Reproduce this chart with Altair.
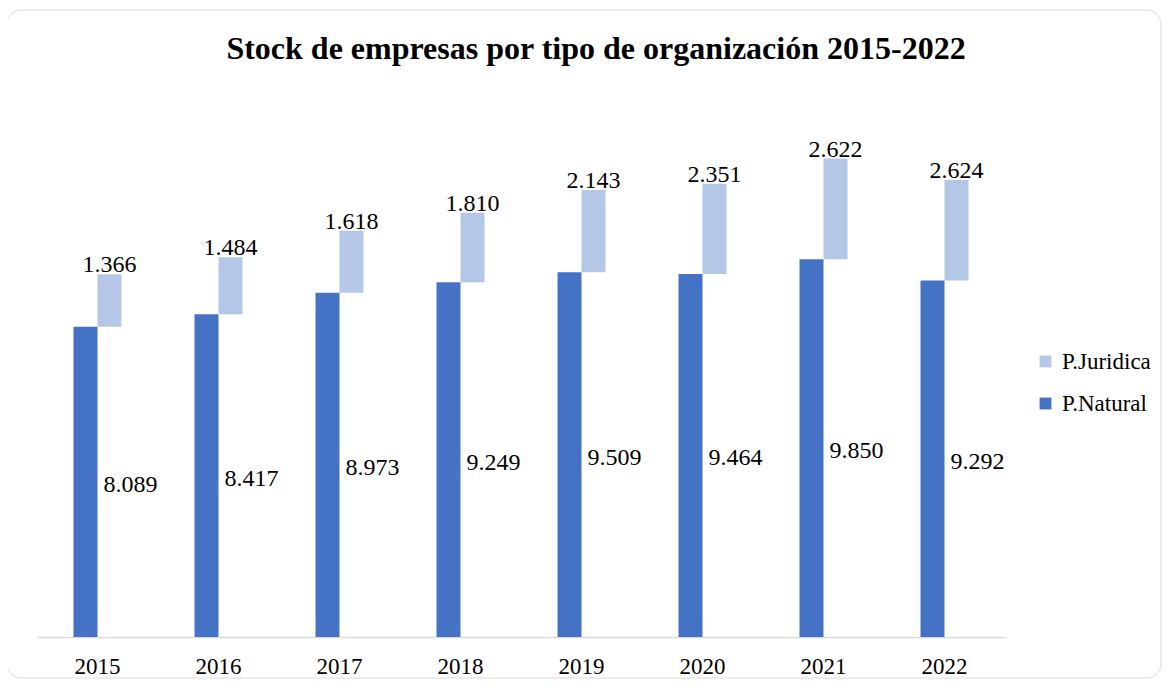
import altair as alt
import pandas as pd

years = ["2015", "2016", "2017", "2018", "2019", "2020", "2021", "2022"]
natural = [8089, 8417, 8973, 9249, 9509, 9464, 9850, 9292]
juridica = [1366, 1484, 1618, 1810, 2143, 2351, 2622, 2624]
series = ["P.Juridica", "P.Natural"]
colors = ["#B4C7E7", "#4472C4"]
title_text = ["Stock de empresas por tipo de organización 2015-2022"]

FONT = "Liberation Serif"
FS = 24


def fmt(v):
    return f"{v:,}".replace(",", ".")


rows = []
for y, n, j in zip(years, natural, juridica):
    rows.append(dict(year=y, serie="P.Natural", start=0, end=n, mid=n / 2, label=fmt(n)))
    rows.append(dict(year=y, serie="P.Juridica", start=n, end=n + j, mid=n + j / 2, label=fmt(j)))
df = pd.DataFrame(rows)

W, H = 968, 537

x_enc = alt.X(
    "year:N",
    sort=years,
    scale=alt.Scale(paddingInner=0, paddingOuter=0),
    axis=alt.Axis(
        title=None, labelAngle=0, ticks=False, grid=False,
        domainColor="#d9d9d9", domainWidth=1.5,
        labelFont=FONT, labelFontSize=23, labelColor="black", labelPadding=18,
    ),
)
y_scale = alt.Scale(domain=[0, 14000], nice=False, zero=True)

color_enc = alt.Color(
    "serie:N",
    scale=alt.Scale(domain=series, range=colors),
    legend=alt.Legend(
        title=None, orient="none", legendX=997, legendY=250,
        symbolType="square", symbolSize=140, symbolStrokeWidth=0,
        labelFont=FONT, labelFontSize=23, labelColor="black",
        labelOffset=5, rowPadding=18,
    ),
)

base = alt.Chart(df)

nat_bars = base.transform_filter(alt.datum.serie == "P.Natural").mark_bar(
    width=24, xOffset=-12
).encode(
    x=x_enc,
    y=alt.Y("start:Q", scale=y_scale, axis=None),
    y2="end:Q",
    color=color_enc,
)

jur_bars = base.transform_filter(alt.datum.serie == "P.Juridica").mark_bar(
    width=24, xOffset=12
).encode(
    x=x_enc,
    y=alt.Y("start:Q", scale=y_scale, axis=None),
    y2="end:Q",
    color=color_enc,
)

jur_text = base.transform_filter(alt.datum.serie == "P.Juridica").mark_text(
    font=FONT, fontSize=FS, color="black", align="center", baseline="alphabetic", dx=12, dy=-2
).encode(
    x=x_enc,
    y=alt.Y("end:Q", scale=y_scale, axis=None),
    text="label:N",
)

nat_text = base.transform_filter(alt.datum.serie == "P.Natural").mark_text(
    font=FONT, fontSize=FS, color="black", align="left", baseline="middle", dx=6, dy=3
).encode(
    x=x_enc,
    y=alt.Y("mid:Q", scale=y_scale, axis=None),
    text="label:N",
)

frame = alt.Chart(pd.DataFrame({"k": [0]})).mark_rect(
    fillOpacity=0, stroke="#d9d9d9", strokeWidth=1, cornerRadius=14
).encode(
    x=alt.value(-30), x2=alt.value(1124), y=alt.value(-90), y2=alt.value(578)
)

title = alt.Chart(pd.DataFrame({"t": title_text})).mark_text(
    font=FONT, fontSize=32, fontWeight="bold", color="black",
    align="center", baseline="alphabetic",
).encode(
    x=alt.value(559), y=alt.value(-41), text="t:N"
)

chart = alt.layer(frame, nat_bars, jur_bars, jur_text, nat_text, title).properties(
    width=W,
    height=H,
    autosize=alt.AutoSizeParams(type="none"),
    padding={"left": 29, "top": 92, "right": 157, "bottom": 42},
).configure_view(stroke=None).configure_text(font=FONT)

chart.save("out.html", embed_options={"renderer": "svg", "actions": False})
